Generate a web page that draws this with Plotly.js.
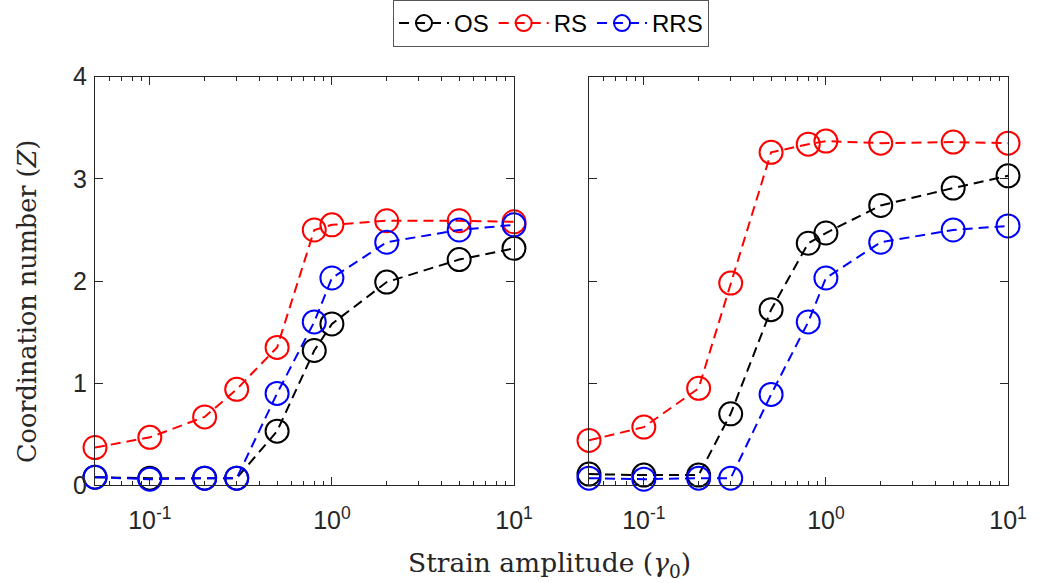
<!DOCTYPE html>
<html>
<head>
<meta charset="utf-8">
<script src="https://cdn.plot.ly/plotly-3.0.1.min.js"></script>
<style>html,body{margin:0;padding:0;background:#fff;}#chart{width:1046px;height:583px;}</style>
</head>
<body>
<div id="chart"></div>
<script>
// Strain amplitude values (shared by both panels)
const strain = [0.05, 0.1, 0.2, 0.3, 0.5, 0.8, 1, 2, 5, 10];

// Left panel
const leftOS  = [0.08, 0.07, 0.07, 0.07, 0.53, 1.32, 1.58, 1.99, 2.21, 2.32];
const leftRS  = [0.37, 0.47, 0.67, 0.94, 1.35, 2.50, 2.55, 2.59, 2.59, 2.58];
const leftRRS = [0.08, 0.06, 0.07, 0.07, 0.90, 1.60, 2.03, 2.38, 2.50, 2.55];

// Right panel
const rightOS  = [0.11, 0.10, 0.10, 0.70, 1.72, 2.37, 2.47, 2.74, 2.91, 3.03];
const rightRS  = [0.44, 0.57, 0.95, 1.98, 3.26, 3.34, 3.37, 3.35, 3.36, 3.35];
const rightRRS = [0.07, 0.06, 0.07, 0.07, 0.89, 1.60, 2.03, 2.38, 2.50, 2.54];

const seriesNames = ['OS', 'RS', 'RRS'];
const seriesColors = ['#000000', '#ff0000', '#0000ff'];

const xTickVals = [0.1, 1, 10];
const xTickText = ['10<sup>-1</sup>', '10<sup>0</sup>', '10<sup>1</sup>'];
const yTickVals = [0, 1, 2, 3, 4];

const W = 1046, H = 583;
const axColor = '#262626';

function mk(y, i, xa, ya, show) {
  return {
    x: strain, y: y, name: seriesNames[i], type: 'scatter', mode: 'lines+markers',
    xaxis: xa, yaxis: ya, showlegend: show, cliponaxis: false,
    line: {color: seriesColors[i], width: 2, dash: '10px,6px'},
    marker: {symbol: 'circle-open', size: 23, color: seriesColors[i], line: {width: 2, color: seriesColors[i]}}
  };
}

const traces = [
  mk(leftOS, 0, 'x', 'y', true), mk(leftRS, 1, 'x', 'y', true), mk(leftRRS, 2, 'x', 'y', true),
  mk(rightOS, 0, 'x2', 'y2', false), mk(rightRS, 1, 'x2', 'y2', false), mk(rightRRS, 2, 'x2', 'y2', false)
];

const minorVals = [];
for (let d = -2; d <= 0; d++) for (let k = 2; k <= 9; k++) minorVals.push(k * Math.pow(10, d));

function xax(domain) {
  return {
    type: 'log', domain: domain, range: [Math.log10(0.05), 1],
    tickmode: 'array', tickvals: xTickVals, ticktext: xTickText,
    ticks: 'inside', ticklen: 8, tickcolor: axColor, tickwidth: 1, ticklabelstandoff: 13,
    minor: {tickmode: 'array', tickvals: minorVals, ticks: 'inside', ticklen: 4, tickcolor: axColor, showgrid: false},
    showline: true, linecolor: axColor, linewidth: 1, mirror: 'allticks',
    showgrid: false, zeroline: false, automargin: false,
    tickfont: {family: 'Liberation Sans, Arial, sans-serif', size: 25, color: axColor}
  };
}
function yax(domain, labels, anchor) {
  return {
    domain: domain, range: [0, 4], tickmode: 'array', tickvals: yTickVals, anchor: anchor,
    ticks: 'inside', ticklen: 8, tickcolor: axColor, tickwidth: 1, ticklabelstandoff: 2,
    showline: true, linecolor: axColor, linewidth: 1, mirror: 'allticks',
    showgrid: false, zeroline: false, automargin: false, showticklabels: labels,
    tickfont: {family: 'Liberation Sans, Arial, sans-serif', size: 25, color: axColor}
  };
}

const yDom = [(H - 485) / H, (H - 75) / H];
const layout = {
  width: W, height: H,
  margin: {l: 0, r: 0, t: 0, b: 0},
  paper_bgcolor: '#fff', plot_bgcolor: '#fff',
  xaxis: Object.assign(xax([95 / W, 514 / W]), {anchor: 'y'}),
  yaxis: yax(yDom, true, 'x'),
  xaxis2: Object.assign(xax([589 / W, 1008 / W]), {anchor: 'y2'}),
  yaxis2: yax(yDom, false, 'x2'),
  showlegend: true,
  legend: {
    orientation: 'h', x: 551 / W, xanchor: 'center', y: 1 + 2 / H, yanchor: 'top',
    bordercolor: '#555555', borderwidth: 1, bgcolor: '#fff',
    font: {family: 'Liberation Sans, Arial, sans-serif', size: 24, color: '#000'},
    itemwidth: 50, tracegroupgap: 0
  },
  annotations: [
    {text: 'Strain amplitude (<i>\u03b3</i><sub>0</sub>)', xref: 'paper', yref: 'paper',
     x: 549 / W, y: (H - 564) / H, xanchor: 'center', yanchor: 'middle', showarrow: false,
     font: {family: 'DejaVu Serif, serif', size: 26.5, color: axColor}},
    {text: 'Coordination number (<i>Z</i>)', xref: 'paper', yref: 'paper',
     x: 27 / W, y: (H - 301) / H, xanchor: 'center', yanchor: 'middle', showarrow: false, textangle: -90,
     font: {family: 'DejaVu Serif, serif', size: 25.5, color: axColor}}
  ]
};

Plotly.newPlot('chart', traces, layout, {displayModeBar: false, staticPlot: true});
</script>
</body>
</html>
